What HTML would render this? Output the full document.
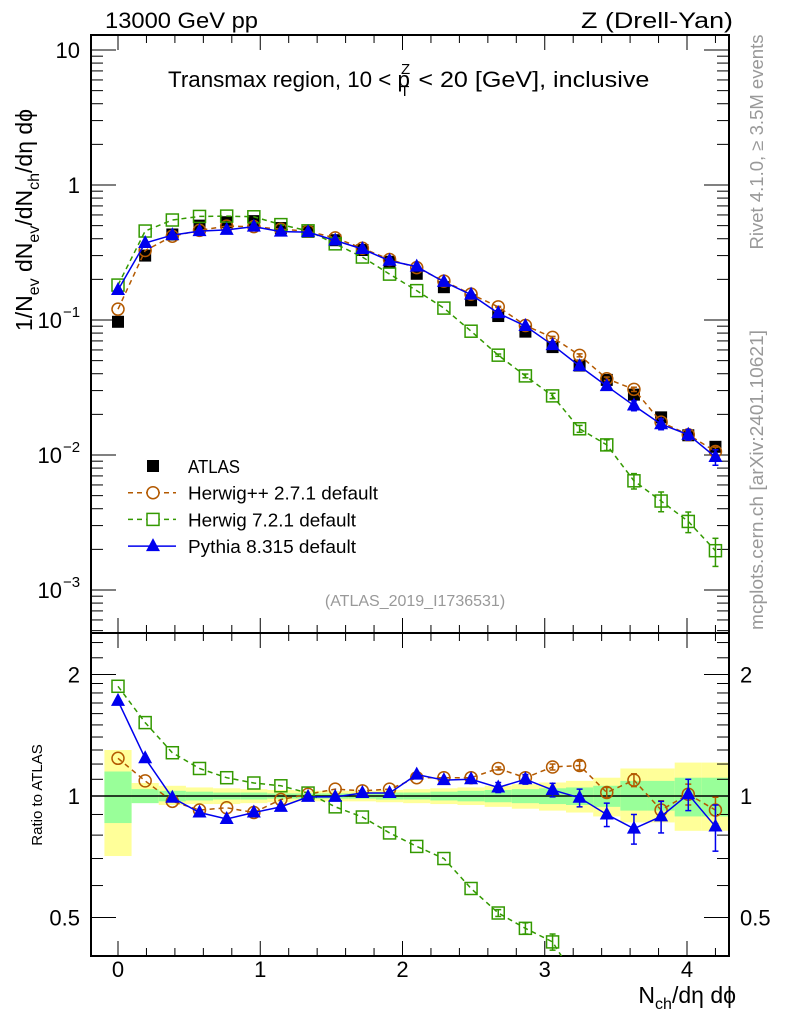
<!DOCTYPE html>
<html><head><meta charset="utf-8"><style>
html,body{margin:0;background:#fff;width:786px;height:1024px;overflow:hidden;}
svg{display:block;font-family:"Liberation Sans",sans-serif;}
</style></head><body>
<svg id="c" width="786" height="1024" viewBox="0 0 786 1024" xmlns="http://www.w3.org/2000/svg"></svg>
<script>
const xs = [0,0.191,0.382,0.573,0.764,0.955,1.145,1.336,1.527,1.718,1.909,2.1,2.291,2.482,2.673,2.864,3.055,3.245,3.436,3.627,3.818,4.009,4.2];
const atlas = [0.097,0.30,0.43,0.50,0.53,0.54,0.48,0.45,0.39,0.33,0.27,0.22,0.175,0.14,0.107,0.082,0.063,0.046,0.036,0.028,0.019,0.014,0.0115];
const herwigpp = [1.24,1.09,0.97,0.923,0.935,0.91,0.98,1.01,1.04,1.03,1.04,1.11,1.11,1.11,1.17,1.11,1.18,1.19,1.02,1.095,0.923,1.01,0.923];
const herwig7 = [1.87,1.52,1.28,1.17,1.11,1.077,1.06,1.017,0.94,0.887,0.81,0.75,0.70,0.59,0.513,0.47,0.435,0.34,0.33,0.23,0.24,0.23,0.17];
const herwig7Err = [0,0,0,0,0,0,0,0,0,0,0,0,0,0,0.01,0.015,0.02,0.02,0.03,0.03,0.04,0.04,0.04];
const pythia = [1.72,1.24,0.99,0.91,0.877,0.91,0.94,0.995,0.995,1.017,1.017,1.13,1.095,1.10,1.05,1.10,1.035,0.99,0.90,0.83,0.89,1.01,0.84];
const pythiaErr = [0,0,0,0,0,0,0,0,0,0,0,0,0,0,0.03,0.03,0.04,0.05,0.06,0.07,0.08,0.09,0.11];
const herwigppErr = [0,0,0,0,0,0,0,0,0,0,0,0,0,0,0.01,0.01,0.02,0.03,0.03,0.04,0.05,0.06,0.07];
const yelHi = [1.30,1.077,1.06,1.05,1.045,1.04,1.035,1.03,1.03,1.03,1.035,1.04,1.045,1.05,1.06,1.07,1.08,1.09,1.11,1.17,1.17,1.21,1.21];
const yelLo = [0.71,0.966,0.95,0.955,0.955,0.96,0.965,0.97,0.97,0.97,0.965,0.96,0.955,0.95,0.94,0.93,0.92,0.91,0.89,0.86,0.86,0.82,0.82];
const grnHi = [1.15,1.04,1.03,1.025,1.02,1.02,1.015,1.015,1.015,1.015,1.02,1.02,1.025,1.03,1.035,1.04,1.045,1.05,1.06,1.09,1.09,1.11,1.11];
const grnLo = [0.857,0.96,0.97,0.975,0.98,0.98,0.985,0.985,0.985,0.985,0.98,0.98,0.975,0.97,0.965,0.96,0.955,0.95,0.94,0.92,0.92,0.89,0.89];
const xTicks = [0,1,2,3,4];
const binHalf = 0.0955;

const NS="http://www.w3.org/2000/svg", svg=document.getElementById('c');
const L=91,R=729,MT=35,MB=633,RT=633,RB=956;
const X=v=>118+v*142.25;
const YM=v=>185-Math.log10(v)*135;
const YR=v=>796-Math.log2(v)*121.5;
function el(tag,attrs,parent){const e=document.createElementNS(NS,tag);for(const k in attrs)e.setAttribute(k,attrs[k]);(parent||svg).appendChild(e);return e;}
function txt(s,x,y,attrs,parent){const t=el('text',Object.assign({x:x,y:y},attrs),parent);t.textContent=s;return t;}
const defs=el('defs',{});
const c1=el('clipPath',{id:'cm'},defs);el('rect',{x:L,y:MT,width:R-L,height:MB-MT},c1);
const c2=el('clipPath',{id:'cr'},defs);el('rect',{x:L,y:RT,width:R-L,height:RB-RT},c2);

const gBand=el('g',{'clip-path':'url(#cr)'});

xs.forEach((x,i)=>{
  const x0=X(x-binHalf), x1=i==xs.length-1?R:X(x+binHalf);
  const y=el('rect',{x:x0,y:YR(yelHi[i]),width:x1-x0,height:YR(yelLo[i])-YR(yelHi[i]),fill:'#ffff99'},gBand);
  
  const g=el('rect',{x:x0,y:YR(grnHi[i]),width:x1-x0,height:YR(grnLo[i])-YR(grnHi[i]),fill:'#99ff99'},gBand);
  
});
el('line',{x1:L,x2:R,y1:YR(1),y2:YR(1),stroke:'#000','stroke-width':1.5});

[[MT,MB],[RT,RB]].forEach(([t,b],k)=>{
  const f=el('rect',{x:L,y:t,width:R-L,height:b-t,fill:'none',stroke:'#000','stroke-width':2});
  
  for(let v=-0.2;v<=4.3;v+=0.2){const xx=X(Math.round(v*10)/10);if(xx<L||xx>R)continue;
    const maj=Math.abs(Math.round(v)-v)<1e-6, len=maj?15:8;
    el('line',{x1:xx,x2:xx,y1:t,y2:t+len,stroke:'#000','stroke-width':1});
    el('line',{x1:xx,x2:xx,y1:b,y2:b-len,stroke:'#000','stroke-width':1});}
});
for(let d=-4;d<=1;d++){for(let m=1;m<10;m++){const v=m*Math.pow(10,d),y=YM(v);if(y<MT||y>MB)continue;
  const len=m==1?25:12;
  el('line',{x1:L,x2:L+len,y1:y,y2:y,stroke:'#000'});el('line',{x1:R,x2:R-len,y1:y,y2:y,stroke:'#000'});}}
const labs=[[10,'10',null],[1,'1',null],[0.1,'10','−1'],[0.01,'10','−2'],[0.001,'10','−3']];
labs.forEach(([v,b,e])=>{const y=YM(v)+8;
  const t=txt(b,e?62:80,y,{'font-size':22,'text-anchor':'end'});
  
  if(e){const s=txt(e,63,y-11,{'font-size':15});}});
[0.4,0.5,0.6,0.7,0.8,0.9,1,1.1,1.2,1.3,1.4,1.5,1.6,1.7,1.8,1.9,2,2.2,2.4].forEach(v=>{const y=YR(v);if(y<RT||y>RB)return;
  const len=(v==0.5||v==1||v==2)?25:12;
  el('line',{x1:L,x2:L+len,y1:y,y2:y,stroke:'#000'});el('line',{x1:R,x2:R-len,y1:y,y2:y,stroke:'#000'});});
[[2,'2'],[1,'1'],[0.5,'0.5']].forEach(([v,s])=>{
  const a=txt(s,80,YR(v)+8,{'font-size':22,'text-anchor':'end'});
  const b=txt(s,740,YR(v)+8,{'font-size':22});});
xTicks.forEach(v=>{const t=txt(String(v),X(v),977,{'font-size':22,'text-anchor':'middle'});});

function series(name,vals,errs,color,dash,marker,clip,Yf,isMain){
  const g=el('g',{'clip-path':clip});
  
  const pts=xs.map((x,i)=>[X(x),Yf(isMain?atlas[i]*vals[i]:vals[i])]);
  if(color){el('polyline',{points:pts.map(p=>p.join(',')).join(' '),fill:'none',stroke:color,'stroke-width':1.5,'stroke-dasharray':dash||'none'},g);}
  xs.forEach((x,i)=>{const [px,py]=pts[i];
    if(errs&&errs[i]>0){const v=vals[i]*(isMain?atlas[i]:1);const e=errs[i]*(isMain?atlas[i]:1);
      el('line',{x1:px,x2:px,y1:Yf(v+e),y2:Yf(Math.max(v-e,1e-9)),stroke:color||'#000','stroke-width':1.5},g);
      el('line',{x1:px-3,x2:px+3,y1:Yf(v+e),y2:Yf(v+e),stroke:color,'stroke-width':1.5},g);
      el('line',{x1:px-3,x2:px+3,y1:Yf(v-e),y2:Yf(v-e),stroke:color,'stroke-width':1.5},g);}
    let m;
    if(marker=='sq')m=el('rect',{x:px-6,y:py-6,width:12,height:12,fill:'#000'},g);
    if(marker=='circ')m=el('circle',{cx:px,cy:py,r:6,fill:'none',stroke:color,'stroke-width':1.5},g);
    if(marker=='osq')m=el('rect',{x:px-6,y:py-6,width:12,height:12,fill:'none',stroke:color,'stroke-width':1.5},g);
    if(marker=='tri')m=el('polygon',{points:`${px},${py-8} ${px-7},${py+5} ${px+7},${py+5}`,fill:color},g);
    
  });
}
const ones=xs.map(()=>1);
series('atlas-data-main',ones,null,null,null,'sq','url(#cm)',YM,true);
series('herwigpp-main',herwigpp,herwigppErr,'#b35900','5,4','circ','url(#cm)',YM,true);
series('herwig7-main',herwig7,herwig7Err,'#339900','5,4','osq','url(#cm)',YM,true);
series('pythia-main',pythia,pythiaErr,'#0000ee',null,'tri','url(#cm)',YM,true);
series('herwigpp-ratio',herwigpp,herwigppErr,'#b35900','5,4','circ','url(#cr)',YR,false);
series('herwig7-ratio',herwig7,herwig7Err,'#339900','5,4','osq','url(#cr)',YR,false);
series('pythia-ratio',pythia,pythiaErr,'#0000ee',null,'tri','url(#cr)',YR,false);

const lg=el('g',{});
const ents=[['ATLAS',null,null,'sq',52],['Herwig++ 2.7.1 default','#b35900','5,4','circ',190],['Herwig 7.2.1 default','#339900','5,4','osq',168],['Pythia 8.315 default','#0000ee',null,'tri',168]];
ents.forEach(([t,c,d,m,w],i)=>{const y=466+i*26.7;const g=el('g',{},lg);
  
  if(c)el('line',{x1:128,x2:176,y1:y,y2:y,stroke:c,'stroke-width':1.5,'stroke-dasharray':d||'none'},g);
  if(m=='sq')el('rect',{x:147,y:y-6,width:12,height:12,fill:'#000'},g);
  if(m=='circ')el('circle',{cx:153,cy:y,r:6,fill:'#fff',stroke:c,'stroke-width':1.5},g);
  if(m=='osq')el('rect',{x:147,y:y-6,width:12,height:12,fill:'#fff',stroke:c,'stroke-width':1.5},g);
  if(m=='tri')el('polygon',{points:`153,${y-8} 146,${y+5} 160,${y+5}`,fill:c},g);
  txt(t,188,y+7,{'font-size':18,textLength:w,lengthAdjust:'spacingAndGlyphs'},g);});

function T(s,x,y,a,name){const t=txt(s,x,y,a);return t;}
T('13000 GeV pp',105,28,{'font-size':22,textLength:153,lengthAdjust:'spacingAndGlyphs'},'beam-label');
T('Z (Drell-Yan)',733,28,{'font-size':22,'text-anchor':'end',textLength:152,lengthAdjust:'spacingAndGlyphs'},'process-label');
const tt=T('',168,87,{'font-size':22},'plot-title');
tt.innerHTML='<tspan textLength="242" lengthAdjust="spacingAndGlyphs">Transmax region, 10 &lt; p</tspan><tspan font-size="15" dy="-13" dx="-9">Z</tspan><tspan font-size="15" dy="22" dx="-10">T</tspan><tspan dy="-9" dx="2" textLength="238" lengthAdjust="spacingAndGlyphs"> &lt; 20 [GeV], inclusive</tspan>';
T('(ATLAS_2019_I1736531)',415,606,{'font-size':16,fill:'#999','text-anchor':'middle'},'analysis-id');
T('Rivet 4.1.0, ≥ 3.5M events',763,142,{'font-size':18,fill:'#999','text-anchor':'middle',transform:'rotate(-90 763 142)',textLength:215,lengthAdjust:'spacingAndGlyphs'},'rivet-label');
T('mcplots.cern.ch [arXiv:2401.10621]',763,480,{'font-size':18,fill:'#999','text-anchor':'middle',transform:'rotate(-90 763 480)',textLength:300,lengthAdjust:'spacingAndGlyphs'},'mcplots-label');
const yt=T('',32,220,{'font-size':23,'text-anchor':'middle',transform:'rotate(-90 32 220)'},'y-axis-title');
yt.innerHTML='1/N<tspan font-size="16" dy="7">ev</tspan><tspan dy="-7"> dN</tspan><tspan font-size="16" dy="7">ev</tspan><tspan dy="-7">/dN</tspan><tspan font-size="16" dy="7">ch</tspan><tspan dy="-7">/dη dϕ</tspan>';
T('Ratio to ATLAS',42,795,{'font-size':15,'text-anchor':'middle',transform:'rotate(-90 42 795)'},'ratio-axis-title');
const xt=T('',736,1003,{'font-size':23,'text-anchor':'end'},'x-axis-title');
xt.innerHTML='N<tspan font-size="16" dy="6">ch</tspan><tspan dy="-6">/dη dϕ</tspan>';
</script>
</body></html>
